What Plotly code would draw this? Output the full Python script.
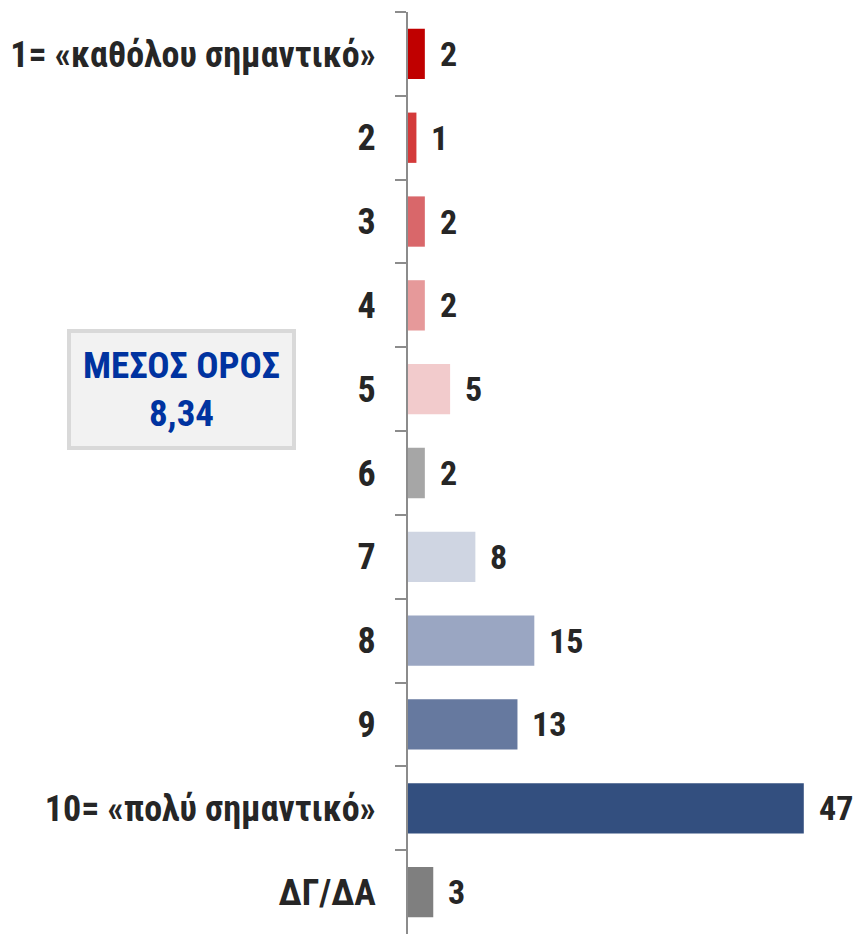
import plotly.graph_objects as go

# Survey answers on a 1-10 importance scale, plus "don't know / no answer"
categories = [
    "1= «καθόλου σημαντικό»", "2", "3", "4", "5", "6", "7", "8", "9",
    "10= «πολύ σημαντικό»", "ΔΓ/ΔΑ",
]
values = [2, 1, 2, 2, 5, 2, 8, 15, 13, 47, 3]
bar_colors = [
    "#C00000", "#D43A3A", "#D9676A", "#E6999A", "#F2CBCC", "#A6A6A6",
    "#CFD5E2", "#9AA6C2", "#66799F", "#334F7F", "#7F7F7F",
]
mean_title = "ΜΕΣΟΣ ΟΡΟΣ"
mean_value = "8,34"

FONT = "Roboto Condensed, Open Sans Condensed, sans-serif"
TEXT_COLOR = "#262626"
AXIS_COLOR = "#8C8C8C"
VALUE_SIZE = 34
TICK_SIZE = 36
BOX_SIZE = 37

fig = go.Figure(
    go.Bar(
        x=values,
        y=categories,
        orientation="h",
        marker=dict(color=bar_colors, line=dict(width=0)),
        hoverinfo="skip",
    )
)

# value labels to the right of each bar (category axis -> use index positions)
for idx, val in enumerate(values):
    fig.add_annotation(
        x=val, y=idx, xref="x", yref="y",
        text=str(val), showarrow=False,
        xanchor="left", yanchor="middle", xshift=13,
        font=dict(family=FONT, size=VALUE_SIZE, color=TEXT_COLOR, weight="bold"),
    )

# mean score box, centred on the row of answer "5"
fig.add_annotation(
    xref="paper", yref="y",
    x=(181.5 - 408) / 448, y=categories.index("5"),
    xanchor="center", yanchor="middle",
    text=f"{mean_title}<br>{mean_value}",
    showarrow=False,
    align="center",
    width=221, height=113,
    bgcolor="#F2F2F2", bordercolor="#D9D9D9", borderwidth=4, borderpad=0,
    font=dict(family=FONT, size=BOX_SIZE, color="#0033A0", weight="bold"),
)

fig.update_layout(
    width=856, height=934,
    margin=dict(l=408, r=0, t=12, b=0),
    paper_bgcolor="white", plot_bgcolor="white",
    bargap=0.4,
    showlegend=False,
    xaxis=dict(
        range=[0, 53.2], visible=False, fixedrange=True,
    ),
    yaxis=dict(
        autorange="reversed",
        type="category",
        showline=True, linecolor=AXIS_COLOR, linewidth=2,
        ticks="outside", tickson="boundaries", ticklen=11,
        tickcolor=AXIS_COLOR, tickwidth=2,
        ticklabelstandoff=23,
        showgrid=False, zeroline=False,
        tickfont=dict(family=FONT, size=TICK_SIZE, color=TEXT_COLOR, weight="bold"),
        automargin=False,
    ),
)

fig.write_html("out.html")
